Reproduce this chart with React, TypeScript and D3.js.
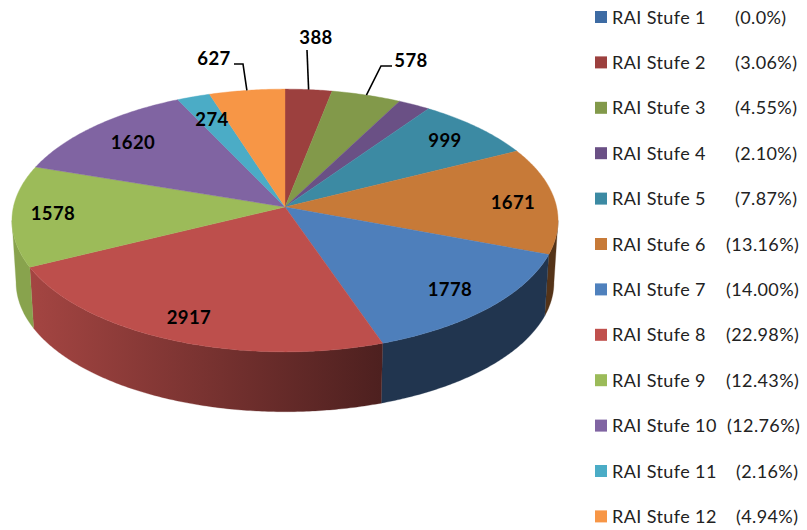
import React from 'react';
import * as d3 from 'd3';

// data
const categories = ['RAI Stufe 1', 'RAI Stufe 2', 'RAI Stufe 3', 'RAI Stufe 4', 'RAI Stufe 5', 'RAI Stufe 6', 'RAI Stufe 7', 'RAI Stufe 8', 'RAI Stufe 9', 'RAI Stufe 10', 'RAI Stufe 11', 'RAI Stufe 12'];
const values = [0, 388, 578, 266, 999, 1671, 1778, 2917, 1578, 1620, 274, 627];
const percents = ['(0.0%)', '(3.06%)', '(4.55%)', '(2.10%)', '(7.87%)', '(13.16%)', '(14.00%)', '(22.98%)', '(12.43%)', '(12.76%)', '(2.16%)', '(4.94%)'];
const hiddenLabels = ['RAI Stufe 1', 'RAI Stufe 4'];

// colours
const topColors = ['#4f81bd', '#9c403e', '#82994a', '#6a5085', '#3c8aa3', '#c77a38', '#4e7fbb', '#bd4f4c', '#9cbb59', '#8064a2', '#4bacc6', '#f79646'];
const legendColors = ['#3d6ba3', '#9c403e', '#82994a', '#6a5085', '#3c8aa3', '#c77a38', '#4f81bd', '#c0504d', '#9bbb59', '#8064a2', '#4bacc6', '#f79646'];

// canvas
const width = 807;
const height = 530;

// projection of the tilted disc
const apexX = 285;
const apexY = 207;
const radiusX = 271.6;
const radiusY = 130;
const perspective = 0.1027;
const depth = 62;
const bottomScale = 0.985;
const silhouette = Math.acos(-perspective);

const fontFamily = 'Lato, sans-serif';

const project = (angle: number, scale = 1, drop = 0): [number, number] => {
  const u = Math.sin(angle);
  const v = Math.cos(angle);
  const w = 1 + perspective * v;
  return [
    apexX + (scale * radiusX * u) / w,
    apexY + drop - (scale * radiusY * v) / w,
  ];
};

const sampleAngles = (a0: number, a1: number) => {
  const n = Math.max(2, Math.ceil((a1 - a0) / 0.01));
  return d3.range(n + 1).map((i) => a0 + ((a1 - a0) * i) / n);
};

const pathOf = d3.line();

const slices = d3.pie<number>().sort(null).startAngle(0).endAngle(2 * Math.PI)(values);

// label placement and the leaders
const labelPos: Record<number, { x: number; y: number }> = {
  1: { x: 316, y: 44 },
  2: { x: 411, y: 67 },
  4: { x: 445, y: 147 },
  5: { x: 513, y: 209 },
  6: { x: 450, y: 296 },
  7: { x: 189, y: 324 },
  8: { x: 53, y: 220 },
  9: { x: 133, y: 149 },
  10: { x: 212, y: 126 },
  11: { x: 214, y: 65 },
};
const leaderElbows: Record<number, [number, number][]> = {
  1: [[307, 50]],
  2: [[392, 66], [381, 66]],
  11: [[234, 64], [243, 64]],
};

// legend percent column start
const percentX = [735, 735, 735, 735, 735, 726, 726, 726, 726, 727, 736, 736];

// wall shading runs left to right across the front of the disc
const wallShade = d3.scaleLinear().domain([30, 382]).range([0.87, 0.41]);

const App = () => (
  <svg width={width} height={height} style={{ position: 'absolute', left: 0, top: 0 }}>
    <defs>
      {slices.map((s, i) => {
        const x0 = project(s.startAngle)[0];
        const x1 = project(s.endAngle)[0];
        const c = d3.color(topColors[i]) as d3.RGBColor;
        const shadeAt = (x: number) => {
          if (i === 6 || i === 5) return 0.42;
          return wallShade(x);
        };
        const stop = (x: number) => {
          const k = shadeAt(x);
          return `rgb(${c.r * k},${c.g * k},${c.b * k})`;
        };
        return (
          <linearGradient key={i} id={`wall${i}`} gradientUnits="userSpaceOnUse" x1={x0} x2={x1} y1={0} y2={0}>
            <stop offset="0" stopColor={stop(x0)} />
            <stop offset="1" stopColor={stop(x1)} />
          </linearGradient>
        );
      })}
    </defs>

    {/* side walls */}
    {slices.map((s, i) => {
      const a0 = Math.max(s.startAngle, silhouette);
      const a1 = Math.min(s.endAngle, 2 * Math.PI - silhouette);
      if (a1 <= a0) return null;
      const angles = sampleAngles(a0, a1);
      const pts = [
        ...angles.map((a) => project(a)),
        ...angles.slice().reverse().map((a) => project(a, bottomScale, depth)),
      ];
      return <path key={i} d={pathOf(pts) + 'Z'} fill={`url(#wall${i})`} stroke={`url(#wall${i})`} strokeWidth={0.3} />;
    })}

    {/* top face */}
    {slices.map((s, i) => {
      if (s.value === 0) return null;
      const pts: [number, number][] = [[apexX, apexY], ...sampleAngles(s.startAngle, s.endAngle).map((a) => project(a))];
      return <path key={i} d={pathOf(pts) + 'Z'} fill={topColors[i]} stroke={topColors[i]} strokeWidth={0.4} />;
    })}

    {/* leader lines */}
    {Object.keys(leaderElbows).map((k) => {
      const i = +k;
      const mid = (slices[i].startAngle + slices[i].endAngle) / 2;
      return <path key={k} d={pathOf([...leaderElbows[i], project(mid)]) as string} fill="none" stroke="#000" strokeWidth={1.6} />;
    })}

    {/* data labels */}
    {values.map((v, i) =>
      hiddenLabels.includes(categories[i]) ? null : (
        <text key={i} x={labelPos[i].x} y={labelPos[i].y} textAnchor="middle" fontFamily={fontFamily} fontWeight={700} fontSize={18.5} letterSpacing={0.4} fill="#000">
          {v}
        </text>
      ),
    )}

    {/* legend */}
    {categories.map((c, i) => {
      const y = 17 + i * 45.4;
      return (
        <g key={c} fontFamily={fontFamily} fontSize={18} letterSpacing={0.4} fill="#222">
          <rect x={595} y={y - 6} width={12} height={12} fill={legendColors[i]} />
          <text x={612} y={y + 6.5}>{c}</text>
          <text x={percentX[i]} y={y + 6.5}>{percents[i]}</text>
        </g>
      );
    })}
  </svg>
);

export default App;
